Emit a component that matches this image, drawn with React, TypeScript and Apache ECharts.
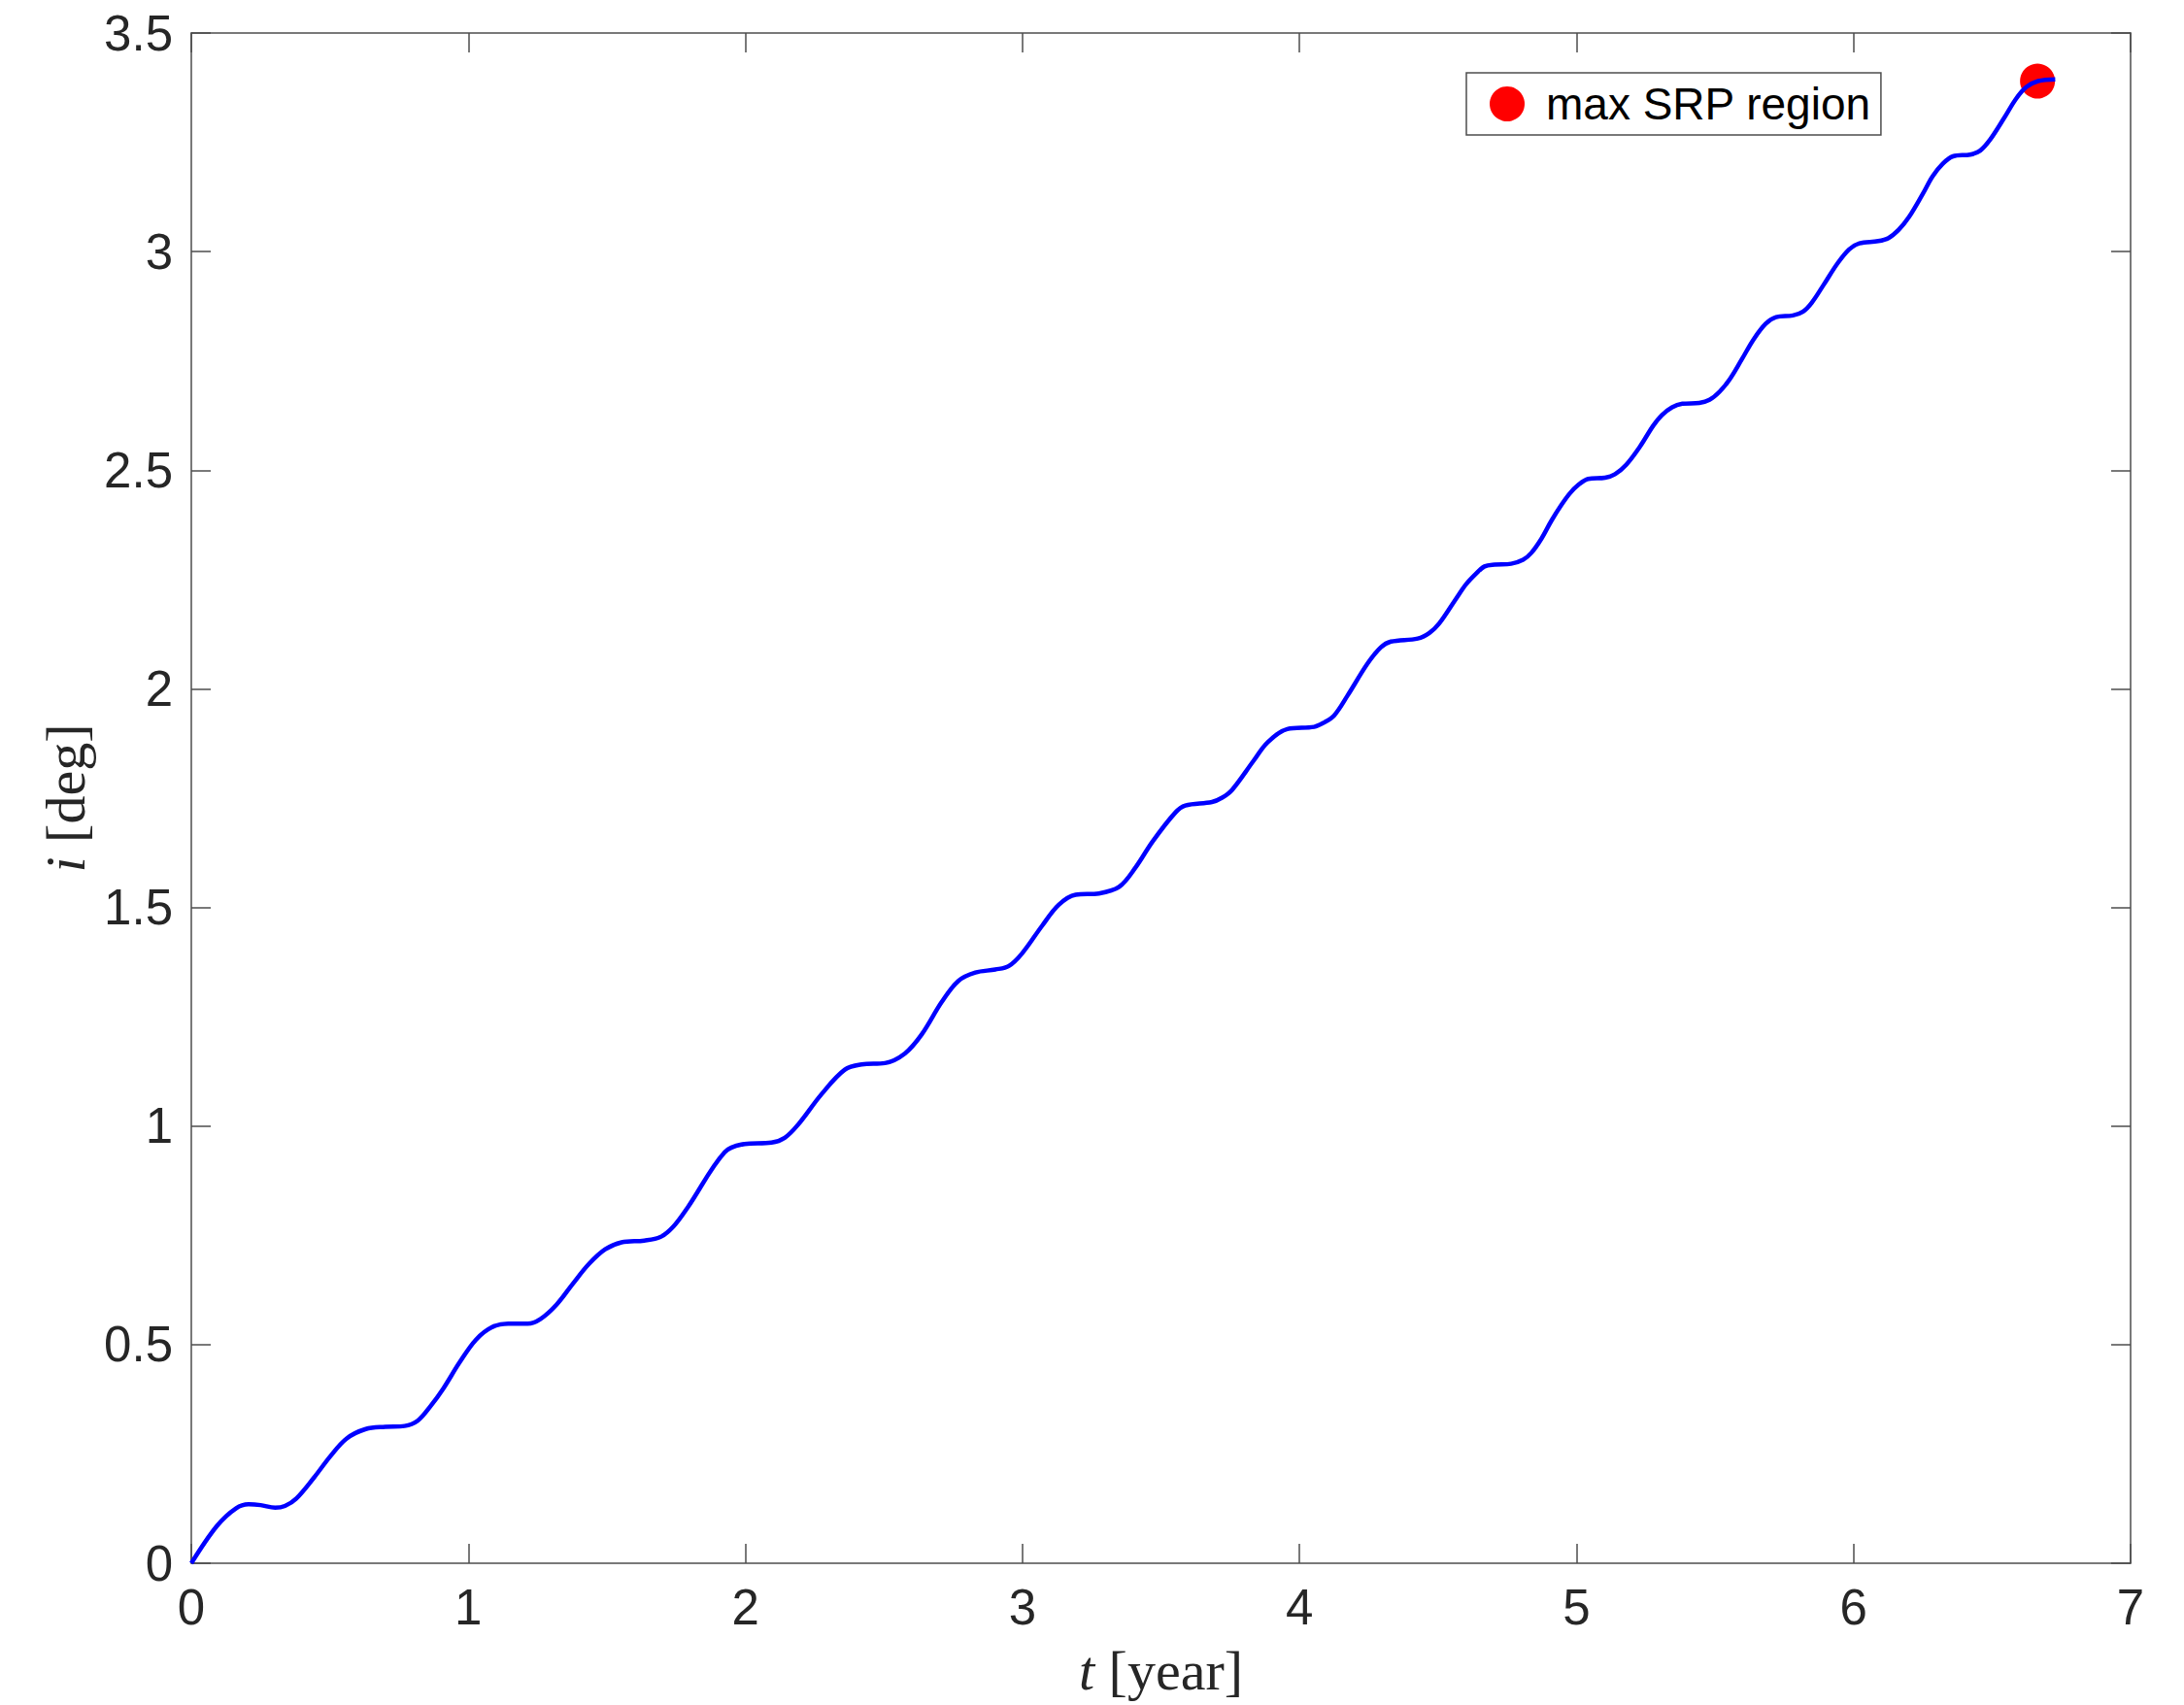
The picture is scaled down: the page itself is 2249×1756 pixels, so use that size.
import React, { useEffect, useRef } from "react";
import * as echarts from "echarts";

// time [year]
const tYear: number[] = [
  0, 0.092, 0.162, 0.209, 0.25, 0.303, 0.338, 0.379, 0.443, 0.501, 0.56, 0.63, 0.7, 0.77, 0.817, 0.863, 0.91,
  0.968, 1.027, 1.086, 1.144, 1.214, 1.261, 1.319, 1.378, 1.436, 1.494, 1.553, 1.635, 1.693, 1.74, 1.792,
  1.925, 1.997, 2.094, 2.142, 2.19, 2.275, 2.359, 2.42, 2.504, 2.576, 2.637, 2.709, 2.769, 2.83, 2.902,
  2.951, 2.999, 3.071, 3.131, 3.192, 3.276, 3.349, 3.409, 3.47, 3.552, 3.588, 3.684, 3.721, 3.757,
  3.835, 3.884, 3.956, 4.053, 4.089, 4.125, 4.173, 4.246, 4.294, 4.33, 4.427, 4.469, 4.505, 4.565, 4.601,
  4.638, 4.668, 4.704, 4.764, 4.807, 4.837, 4.873, 4.909, 4.946, 4.976, 5.006, 5.042, 5.103, 5.139, 5.18,
  5.229, 5.277, 5.308, 5.345, 5.382, 5.443, 5.48, 5.517, 5.554, 5.597, 5.64, 5.683, 5.72, 5.781, 5.818,
  5.849, 5.892, 5.941, 5.984, 6.021, 6.089, 6.126, 6.163, 6.2, 6.249, 6.285, 6.322, 6.359, 6.421, 6.457,
  6.494, 6.543, 6.586, 6.623, 6.666, 6.728,
];

// inclination [deg]
const incDeg: number[] = [
  0, 0.085, 0.126, 0.135, 0.133, 0.127, 0.131, 0.148, 0.196, 0.244, 0.285, 0.307, 0.312, 0.314, 0.326, 0.359, 0.4,
  0.459, 0.511, 0.54, 0.548, 0.548, 0.559, 0.592, 0.64, 0.685, 0.718, 0.734, 0.738, 0.746, 0.77, 0.814,
  0.94, 0.959, 0.962, 0.973, 1.003, 1.073, 1.129, 1.141, 1.144, 1.166, 1.21, 1.284, 1.332, 1.351, 1.358,
  1.366, 1.395, 1.458, 1.506, 1.529, 1.532, 1.547, 1.592, 1.651, 1.717, 1.733, 1.741, 1.751, 1.769,
  1.836, 1.877, 1.908, 1.913, 1.923, 1.939, 1.984, 2.058, 2.095, 2.108, 2.115, 2.128, 2.15, 2.206, 2.239,
  2.264, 2.28, 2.284, 2.286, 2.295, 2.311, 2.343, 2.384, 2.421, 2.447, 2.466, 2.48, 2.483, 2.491, 2.513,
  2.554, 2.602, 2.626, 2.644, 2.652, 2.654, 2.661, 2.68, 2.709, 2.754, 2.8, 2.835, 2.85, 2.854, 2.863,
  2.883, 2.924, 2.972, 3.005, 3.019, 3.024, 3.031, 3.05, 3.079, 3.131, 3.172, 3.201, 3.218, 3.222, 3.231,
  3.257, 3.305, 3.349, 3.376, 3.39, 3.394,
];

// max SRP region marker [t, i]
const srpT: number[] = [6.664];
const srpI: number[] = [3.39];

const xMin = 0;
const xMax = 7;
const xStep = 1;
const yMin = 0;
const yMax = 3.5;
const yStep = 0.5;

const legendName = "max SRP region";

const AXIS_COLOR = "#262626";
const BOX_COLOR = "#4d4d4d";
const SANS = "Liberation Sans, Arial, Helvetica, sans-serif";
const SERIF = "Liberation Serif, Times New Roman, serif";

function axisLine() {
  return { show: true, onZero: false, lineStyle: { color: BOX_COLOR, width: 1.5 } };
}
function axisTick() {
  return { show: true, inside: true, length: 20, lineStyle: { color: BOX_COLOR, width: 1.5 } };
}

function buildOption(): any {
  const lineData = tYear.map((t, k) => [t, incDeg[k]]);
  const srpData = srpT.map((t, k) => [t, srpI[k]]);

  const nameStyle = {
    fontSize: 58,
    fontFamily: SERIF,
    color: AXIS_COLOR,
    rich: { it: { fontSize: 58, fontFamily: SERIF, fontStyle: "italic", color: AXIS_COLOR } },
  };

  return {
    animation: false,
    backgroundColor: "#ffffff",
    grid: { left: 197, right: 55, top: 34, bottom: 146, containLabel: false },
    legend: {
      data: [legendName],
      left: 1510,
      top: 75,
      orient: "horizontal",
      padding: [9, 10, 9, 24],
      itemWidth: 36,
      itemHeight: 36,
      icon: "circle",
      backgroundColor: "#ffffff",
      borderColor: BOX_COLOR,
      borderWidth: 1.5,
      borderRadius: 0,
      selectedMode: false,
      textStyle: { fontSize: 46, fontFamily: SANS, color: "#000000", padding: [0, 0, 0, 17] },
    },
    xAxis: [
      {
        type: "value",
        min: xMin,
        max: xMax,
        interval: xStep,
        position: "bottom",
        axisLine: axisLine(),
        axisTick: axisTick(),
        splitLine: { show: false },
        axisLabel: { show: true, fontSize: 51, fontFamily: SANS, color: AXIS_COLOR, margin: 20 },
        name: "{it|t} [year]",
        nameLocation: "middle",
        nameGap: 81,
        nameTextStyle: nameStyle,
      },
      {
        type: "value",
        min: xMin,
        max: xMax,
        interval: xStep,
        position: "top",
        axisLine: axisLine(),
        axisTick: axisTick(),
        splitLine: { show: false },
        axisLabel: { show: false },
      },
    ],
    yAxis: [
      {
        type: "value",
        min: yMin,
        max: yMax,
        interval: yStep,
        position: "left",
        axisLine: axisLine(),
        axisTick: axisTick(),
        splitLine: { show: false },
        axisLabel: { show: true, fontSize: 51, fontFamily: SANS, color: AXIS_COLOR, margin: 19 },
        name: "{it|i} [deg]",
        nameLocation: "middle",
        nameRotate: 90,
        nameGap: 100,
        nameTextStyle: nameStyle,
      },
      {
        type: "value",
        min: yMin,
        max: yMax,
        interval: yStep,
        position: "right",
        axisLine: axisLine(),
        axisTick: axisTick(),
        splitLine: { show: false },
        axisLabel: { show: false },
      },
    ],
    series: [
      {
        name: legendName,
        type: "scatter",
        xAxisIndex: 0,
        yAxisIndex: 0,
        data: srpData,
        symbol: "circle",
        symbolSize: 36,
        itemStyle: { color: "#ff0000", opacity: 1 },
        z: 2,
      },
      {
        name: "inclination",
        type: "line",
        xAxisIndex: 0,
        yAxisIndex: 0,
        data: lineData,
        showSymbol: false,
        smooth: 0.35,
        lineStyle: { color: "#0000ff", width: 4.5 },
        itemStyle: { color: "#0000ff" },
        z: 3,
      },
    ],
  };
}

export default function App() {
  const ref = useRef<HTMLDivElement>(null);
  useEffect(() => {
    if (!ref.current) return;
    const chart = echarts.init(ref.current, null, { renderer: "svg" });
    chart.setOption(buildOption());
    return () => {
      chart.dispose();
    };
  }, []);
  return (
    <div
      ref={ref}
      style={{ position: "absolute", left: 0, top: 0, width: 2249, height: 1756, background: "#ffffff" }}
    />
  );
}
